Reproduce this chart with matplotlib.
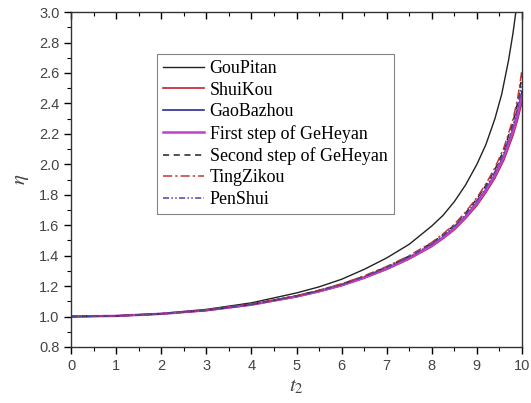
import matplotlib.pyplot as plt
from matplotlib.ticker import MultipleLocator

# data
t_gou = [0, 1, 2, 3, 4, 5, 5.5, 6, 6.5, 7, 7.5, 8, 8.25, 8.5, 8.75, 9, 9.2, 9.4, 9.55, 9.7, 9.8, 9.9]
eta_gou = [1.0, 1.005, 1.02, 1.047, 1.09, 1.155, 1.195, 1.245, 1.31, 1.385, 1.475, 1.595, 1.665, 1.755, 1.865, 2.0,
           2.13, 2.3, 2.46, 2.68, 2.86, 3.08]

t2 = [0, 1, 2, 3, 4, 5, 5.5, 6, 6.5, 7, 7.5, 8, 8.25, 8.5, 8.75, 9, 9.2, 9.4, 9.6, 9.8, 9.9, 10]
eta_shui = [1.0, 1.004, 1.017, 1.04, 1.077, 1.13, 1.164, 1.203, 1.252, 1.31, 1.378, 1.46, 1.512, 1.57, 1.645, 1.73,
            1.815, 1.91, 2.03, 2.19, 2.29, 2.41]
eta_gao = [1.0, 1.004, 1.018, 1.041, 1.079, 1.133, 1.168, 1.208, 1.258, 1.317, 1.386, 1.47, 1.523, 1.583, 1.66, 1.75,
           1.835, 1.935, 2.06, 2.23, 2.34, 2.48]
eta_ge1 = [1.0, 1.004, 1.018, 1.041, 1.078, 1.132, 1.166, 1.206, 1.256, 1.314, 1.383, 1.466, 1.518, 1.578, 1.654, 1.743,
           1.828, 1.926, 2.05, 2.215, 2.32, 2.45]
eta_ge2 = [1.0, 1.004, 1.018, 1.042, 1.08, 1.136, 1.172, 1.213, 1.265, 1.326, 1.397, 1.483, 1.538, 1.6, 1.68, 1.773,
           1.862, 1.965, 2.095, 2.275, 2.4, 2.58]
eta_ting = [1.0, 1.004, 1.018, 1.042, 1.081, 1.137, 1.173, 1.215, 1.267, 1.329, 1.4, 1.487, 1.543, 1.606, 1.687, 1.781,
            1.872, 1.977, 2.11, 2.295, 2.425, 2.62]
eta_pen = [1.0, 1.004, 1.018, 1.042, 1.08, 1.135, 1.17, 1.211, 1.262, 1.322, 1.392, 1.477, 1.531, 1.592, 1.671, 1.762,
           1.849, 1.951, 2.078, 2.253, 2.37, 2.54]

plt.rcParams['font.family'] = ['Liberation Sans', 'DejaVu Sans']
plt.rcParams['mathtext.fontset'] = 'stix'

fig = plt.figure(figsize=(5.31, 4.03), dpi=100)
ax = fig.add_axes([0.134, 0.139, 0.849, 0.831])

ax.plot(t_gou, eta_gou, color='#222222', lw=1.0, label='GouPitan')
ax.plot(t2, eta_shui, color='#c0202a', lw=1.2, label='ShuiKou')
ax.plot(t2, eta_gao, color='#2a2a9a', lw=1.2, label='GaoBazhou')
ax.plot(t2, eta_ge1, color='#c040c8', lw=1.8, label='First step of GeHeyan')
ax.plot(t2, eta_ge2, color='#222222', lw=1.1, ls=(0, (4, 3)), label='Second step of GeHeyan')
ax.plot(t2, eta_ting, color='#c03838', lw=1.1, ls=(0, (6, 2, 1.5, 2)), label='TingZikou')
ax.plot(t2, eta_pen, color='#4848a0', lw=1.1, ls=(0, (4, 1.5, 1, 1.5, 1, 1.5)), label='PenShui')

ax.set_xlim(0, 10)
ax.set_ylim(0.8, 3.0)
ax.xaxis.set_major_locator(MultipleLocator(1))
ax.xaxis.set_minor_locator(MultipleLocator(0.5))
ax.yaxis.set_major_locator(MultipleLocator(0.2))
ax.yaxis.set_minor_locator(MultipleLocator(0.1))
ax.yaxis.set_major_formatter(plt.FormatStrFormatter('%.1f'))
ax.tick_params(which='major', direction='out', length=5, width=1.0, labelsize=10.5,
               labelcolor='#444444', top=True, right=False)
ax.tick_params(which='minor', direction='out', length=3, width=0.8, top=True, right=False)
for sp in ax.spines.values():
    sp.set_color('#333333')
    sp.set_linewidth(1.0)
# top ticks point inward
for tk in ax.xaxis.get_major_ticks() + ax.xaxis.get_minor_ticks():
    tk.tick2line.set_marker(3)

ax.set_xlabel(r'$t_2$', fontsize=15, color='#444444', labelpad=3)
ax.set_ylabel(r'$\eta$', fontsize=15, color='#444444', labelpad=6)

leg = ax.legend(loc='upper left', bbox_to_anchor=(0.19, 0.875), prop={'family': 'Liberation Serif', 'size': 12.9},
                frameon=True, fancybox=False, handlelength=2.3, handletextpad=0.3, labelspacing=0.25,
                borderpad=0.35, borderaxespad=0)
leg.get_frame().set_edgecolor('#666666')
leg.get_frame().set_linewidth(0.8)

fig.savefig('out.png', dpi=100)
